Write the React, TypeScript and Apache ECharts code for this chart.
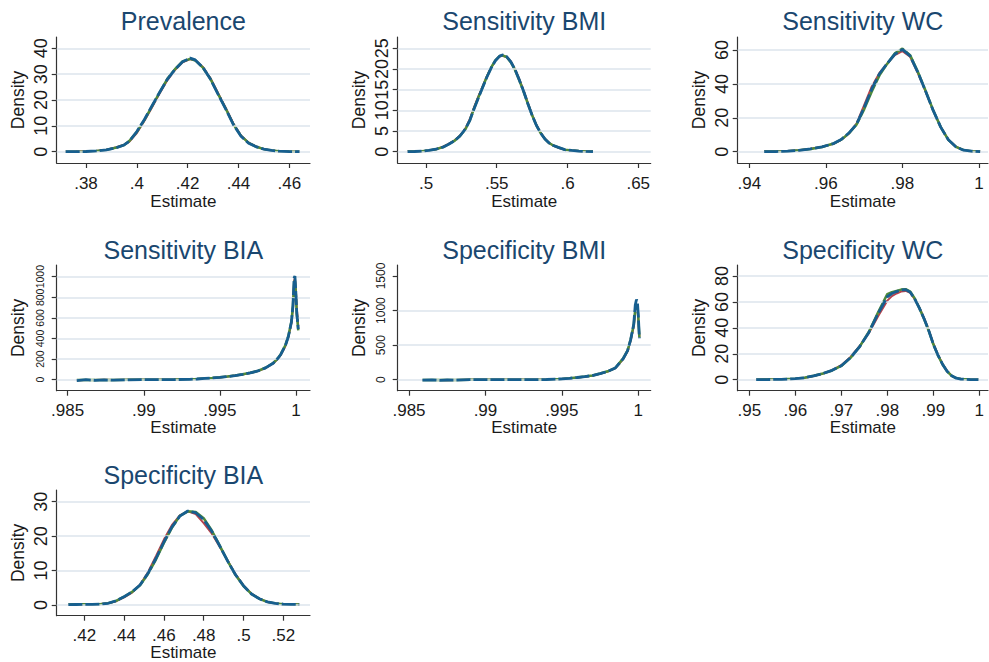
import React, { useEffect, useRef } from "react";
import * as echarts from "echarts";

// ---------- data ----------
const TITLES = [
  "Prevalence",
  "Sensitivity BMI",
  "Sensitivity WC",
  "Sensitivity BIA",
  "Specificity BMI",
  "Specificity WC",
  "Specificity BIA",
];

// Panel 1: Prevalence
const P1X = [0.372, 0.376, 0.38, 0.384, 0.388, 0.392, 0.395, 0.397, 0.4, 0.403, 0.406, 0.409, 0.412, 0.415, 0.418, 0.421, 0.423, 0.426, 0.429, 0.432, 0.435, 0.438, 0.441, 0.444, 0.447, 0.45, 0.453, 0.456, 0.46, 0.464];
const P1B = [0.02, 0.03, 0.08, 0.3, 0.7, 1.6, 2.6, 4.0, 7.8, 12.5, 17.8, 23.0, 28.0, 31.8, 34.8, 36.2, 35.5, 32.6, 28.0, 22.2, 16.5, 10.5, 6.0, 3.3, 1.9, 1.0, 0.5, 0.2, 0.05, 0.02];
const P1R = [0.02, 0.04, 0.1, 0.3, 0.8, 1.7, 2.7, 3.8, 7.2, 12.0, 17.2, 22.6, 27.6, 31.6, 34.6, 35.8, 35.4, 32.8, 28.4, 22.6, 16.9, 10.9, 6.3, 3.5, 2.0, 1.0, 0.5, 0.2, 0.06, 0.02];
const P1G = [0.02, 0.03, 0.09, 0.3, 0.7, 1.6, 2.6, 4.1, 7.6, 12.3, 17.6, 23.0, 28.2, 31.9, 34.9, 35.9, 35.3, 32.5, 28.1, 22.3, 16.6, 10.6, 6.1, 3.4, 1.9, 1.0, 0.5, 0.2, 0.05, 0.02];

// Panel 2: Sensitivity BMI
const P2X = [0.487, 0.492, 0.497, 0.502, 0.507, 0.512, 0.516, 0.52, 0.524, 0.528, 0.531, 0.534, 0.537, 0.54, 0.543, 0.546, 0.549, 0.552, 0.554, 0.557, 0.56, 0.563, 0.566, 0.569, 0.572, 0.575, 0.578, 0.581, 0.584, 0.587, 0.59, 0.594, 0.598, 0.603, 0.608, 0.613, 0.618];
const P2B = [0.02, 0.05, 0.12, 0.3, 0.6, 1.1, 1.8, 2.6, 3.8, 5.6, 7.6, 10.4, 13.0, 15.5, 18.0, 20.2, 22.0, 23.1, 23.4, 23.0, 21.7, 19.8, 17.3, 14.6, 11.6, 8.8, 6.4, 4.5, 3.1, 2.1, 1.5, 1.0, 0.5, 0.3, 0.15, 0.06, 0.02];
const P2R = [0.02, 0.05, 0.13, 0.3, 0.6, 1.2, 1.9, 2.7, 3.9, 5.7, 7.9, 10.8, 13.4, 15.8, 18.2, 20.3, 22.0, 23.0, 23.2, 22.9, 21.8, 19.9, 17.5, 14.8, 11.8, 8.9, 6.5, 4.6, 3.2, 2.1, 1.5, 0.9, 0.5, 0.3, 0.15, 0.06, 0.02];
const P2G = [0.02, 0.05, 0.12, 0.3, 0.6, 1.1, 1.8, 2.6, 3.8, 5.5, 7.6, 10.5, 13.1, 15.6, 18.1, 20.3, 22.1, 23.1, 23.3, 22.9, 21.6, 19.7, 17.2, 14.5, 11.6, 8.8, 6.4, 4.5, 3.1, 2.1, 1.5, 1.0, 0.5, 0.3, 0.15, 0.06, 0.02];

// Panel 3: Sensitivity WC
const P3X = [0.9439, 0.947, 0.95, 0.953, 0.956, 0.959, 0.962, 0.964, 0.966, 0.968, 0.97, 0.972, 0.974, 0.976, 0.978, 0.98, 0.982, 0.984, 0.986, 0.988, 0.99, 0.992, 0.994, 0.996, 0.998, 1.0003];
const P3B = [0.05, 0.1, 0.3, 0.8, 1.6, 2.8, 4.8, 7.2, 11.0, 16.2, 26.0, 37.0, 46.0, 52.0, 57.5, 60.4, 56.5, 47.0, 36.0, 24.5, 14.5, 7.0, 2.8, 0.9, 0.3, 0.05];
const P3R = [0.05, 0.1, 0.35, 0.9, 1.8, 3.0, 4.6, 7.0, 10.6, 16.5, 27.5, 38.5, 46.5, 52.0, 57.0, 59.3, 56.0, 46.5, 35.8, 24.5, 14.6, 7.1, 2.9, 0.9, 0.3, 0.05];
const P3G = [0.05, 0.1, 0.3, 0.8, 1.6, 2.8, 4.8, 7.1, 10.8, 16.0, 25.0, 35.5, 45.0, 51.8, 58.0, 60.8, 57.0, 47.3, 36.2, 24.6, 14.5, 7.0, 2.8, 0.9, 0.3, 0.05];

// Panel 4: Sensitivity BIA
const P4X = [0.9856, 0.9862, 0.9868, 0.9874, 0.988, 0.989, 0.99, 0.991, 0.992, 0.993, 0.9935, 0.994, 0.9945, 0.995, 0.9955, 0.996, 0.9965, 0.997, 0.9975, 0.998, 0.9985, 0.9988, 0.999, 0.9993, 0.9995, 0.9997, 0.9998, 0.99988, 0.99993, 0.99998, 1.00005, 1.00015];
const P4B = [-8, 0, -6, -2, -5, -1, 0, 0, 1, 4, 7, 12, 17, 22, 30, 40, 52, 66, 85, 115, 160, 205, 245, 330, 420, 560, 720, 990, 1005, 880, 650, 490];
const P4R = [-5, -2, -4, -1, -3, 0, 0, 0, 1, 4, 7, 11, 16, 22, 30, 40, 51, 65, 84, 113, 158, 200, 240, 325, 415, 550, 700, 960, 990, 900, 700, 520];
const P4G = [-4, -3, -2, -4, -2, -1, 0, 0, 1, 4, 7, 12, 17, 23, 31, 41, 53, 67, 86, 116, 162, 207, 248, 335, 425, 565, 715, 950, 960, 860, 640, 480];

// Panel 5: Specificity BMI
const P5X = [0.98588, 0.9865, 0.987, 0.9875, 0.988, 0.989, 0.99, 0.991, 0.992, 0.993, 0.994, 0.995, 0.9955, 0.996, 0.9965, 0.997, 0.9975, 0.998, 0.9985, 0.999, 0.9993, 0.9995, 0.9997, 0.9998, 0.99988, 0.99994, 1.0, 1.00007];
const P5B = [-5, -3, -10, -4, -6, 0, 0, 0, 0, 0, 3, 12, 20, 32, 45, 60, 88, 120, 170, 300, 420, 580, 800, 1080, 1160, 1130, 930, 600];
const P5R = [-4, -6, -5, -8, -3, 0, 0, 0, 0, 1, 3, 11, 19, 31, 44, 59, 86, 118, 168, 295, 410, 565, 770, 1000, 1060, 1040, 880, 620];
const P5G = [-3, -4, -6, -3, -5, -1, 0, 0, 0, 0, 3, 12, 20, 32, 46, 61, 89, 122, 172, 305, 425, 585, 790, 1020, 1080, 1060, 900, 610];

// Panel 6: Specificity WC
const P6X = [0.9515, 0.954, 0.957, 0.96, 0.962, 0.964, 0.966, 0.968, 0.97, 0.972, 0.974, 0.976, 0.978, 0.98, 0.981, 0.982, 0.983, 0.984, 0.985, 0.986, 0.987, 0.988, 0.989, 0.99, 0.991, 0.992, 0.993, 0.994, 0.995, 0.996, 0.998, 0.9998];
const P6B = [0.05, 0.1, 0.3, 0.8, 1.5, 3.0, 4.8, 7.2, 10.8, 17, 25.5, 36.5, 51, 64, 66.5, 68.0, 69.2, 69.5, 67.5, 62, 55, 47, 38, 27.5, 19, 12, 6.5, 3.0, 1.2, 0.5, 0.1, 0.05];
const P6R = [0.05, 0.1, 0.3, 0.8, 1.5, 2.9, 4.7, 7.4, 11.2, 17.5, 26, 36, 49, 61, 64.5, 66.5, 68.0, 68.5, 67.0, 62, 55.5, 47.5, 38.5, 28, 19.5, 12.2, 6.6, 3.0, 1.2, 0.5, 0.1, 0.05];
const P6G = [0.05, 0.1, 0.3, 0.8, 1.5, 3.0, 4.8, 7.1, 10.6, 16.8, 25.5, 37, 52, 66, 67.5, 68.5, 69.5, 69.8, 68, 62.5, 55, 46.8, 37.8, 27.3, 18.8, 11.9, 6.4, 3.0, 1.2, 0.5, 0.1, 0.05];

// Panel 7: Specificity BIA
const P7X = [0.412, 0.416, 0.42, 0.424, 0.428, 0.432, 0.436, 0.44, 0.444, 0.448, 0.452, 0.456, 0.46, 0.464, 0.468, 0.472, 0.476, 0.48, 0.484, 0.488, 0.492, 0.496, 0.5, 0.504, 0.508, 0.512, 0.516, 0.52, 0.524, 0.528];
const P7B = [0.1, 0.15, 0.2, 0.2, 0.25, 0.5, 1.2, 2.4, 3.8, 5.8, 9.2, 13.5, 18.3, 22.6, 25.8, 27.3, 26.8, 24.8, 21.5, 17.2, 12.8, 8.8, 5.6, 3.2, 1.8, 0.9, 0.45, 0.25, 0.2, 0.15];
const P7R = [0.1, 0.15, 0.2, 0.25, 0.3, 0.5, 1.1, 2.2, 3.6, 5.9, 9.5, 14.2, 19.0, 23.2, 26.0, 27.2, 26.4, 23.8, 20.8, 17.0, 12.9, 8.9, 5.7, 3.3, 1.8, 0.9, 0.45, 0.25, 0.2, 0.15];
const P7G = [0.15, 0.2, 0.2, 0.2, 0.25, 0.5, 1.2, 2.4, 3.8, 5.7, 9.0, 13.2, 18.0, 22.4, 25.9, 27.2, 27.0, 25.2, 21.7, 17.3, 12.8, 8.7, 5.5, 3.2, 1.8, 0.9, 0.45, 0.25, 0.2, 0.15];

// tick values
const X_TICKS = [
  [0.38, 0.4, 0.42, 0.44, 0.46],
  [0.5, 0.55, 0.6, 0.65],
  [0.94, 0.96, 0.98, 1],
  [0.985, 0.99, 0.995, 1],
  [0.985, 0.99, 0.995, 1],
  [0.95, 0.96, 0.97, 0.98, 0.99, 1],
  [0.42, 0.44, 0.46, 0.48, 0.5, 0.52],
];
const Y_TICKS = [
  [0, 10, 20, 30, 40],
  [0, 5, 10, 15, 20, 25],
  [0, 20, 40, 60],
  [0, 200, 400, 600, 800, 1000],
  [0, 500, 1000, 1500],
  [0, 20, 40, 60, 80],
  [0, 10, 20, 30],
];
const Y_GRID = [
  [0, 10, 20, 30, 40],
  [0, 5, 10, 15, 20, 25],
  [0, 20, 40, 60],
  [0, 200, 400, 600, 800, 1000],
  [0, 500, 1000],
  [0, 20, 40, 60, 80],
  [0, 10, 20, 30],
];

// axis extents (plot region incl. Stata padding)
const X_RANGE = [
  [0.36847, 0.46815],
  [0.48, 0.6588],
  [0.93697, 1.00235],
  [0.98428, 1.00092],
  [0.98426, 1.00081],
  [0.94748, 1.00189],
  [0.40613, 0.53342],
];
const Y_RANGE = [
  [-4.37, 44.37],
  [-2.73, 27.73],
  [-6.67, 67.67],
  [-106.8, 1113.6],
  [-159, 1659],
  [-8.49, 88.49],
  [-3.11, 33.4],
];

const XS = [P1X, P2X, P3X, P4X, P5X, P6X, P7X];
const REDS = [P1R, P2R, P3R, P4R, P5R, P6R, P7R];
const GREENS = [P1G, P2G, P3G, P4G, P5G, P6G, P7G];
const BLUES = [P1B, P2B, P3B, P4B, P5B, P6B, P7B];

// ---------- layout / style ----------
const COL_LEFT = [56.7, 397.7, 737.7];
const COL_WIDTH = [253.3, 253, 250.3];
const ROW_TOP = [37, 265, 490];
const ROW_HEIGHT = [126, 125.7, 125.7];
const TITLE_Y = [20.5, 249.5, 474.5];
const X_NAME_GAP = [30, 29, 29];
const X_LABEL_MARGIN = [12, 11, 11];
const Y_LABEL_SIZE = [18, 18, 18, 10.5, 12, 18, 18];

const FONT = "'Liberation Sans', Arial, Helvetica, sans-serif";
const TITLE_COLOR = "#1a476f";
const AXIS_COLOR = "#333333";
const TEXT_COLOR = "#1a1a1a";
const GRID_COLOR = "#dde4ec";
const RED = "#b8424c";
const GREEN = "#4e8a3a";
const BLUE = "#175f8f";

function fmt(v: number): string {
  let s = String(parseFloat(v.toFixed(5)));
  if (s.startsWith("0.")) s = s.slice(1);
  if (s.startsWith("-0.")) s = "-" + s.slice(2);
  return s;
}

function buildOption() {
  const grids: any[] = [];
  const xAxes: any[] = [];
  const yAxes: any[] = [];
  const series: any[] = [];
  const graphics: any[] = [];

  for (let p = 0; p < 7; p++) {
    const col = p % 3;
    const row = Math.floor(p / 3);
    const left = COL_LEFT[col];
    const top = ROW_TOP[row];
    const width = COL_WIDTH[col];
    const height = ROW_HEIGHT[row];
    grids.push({ left, top, width, height, containLabel: false, outerBoundsMode: "none" });

    xAxes.push({
      type: "value",
      gridIndex: p,
      min: X_RANGE[p][0],
      max: X_RANGE[p][1],
      name: "Estimate",
      nameLocation: "middle",
      nameGap: X_NAME_GAP[row],
      nameMoveOverlap: false,
      nameTextStyle: { fontFamily: FONT, fontSize: 17, color: TEXT_COLOR, lineHeight: 16 },
      axisLine: { show: true, onZero: false, lineStyle: { color: AXIS_COLOR, width: 1.2 } },
      axisTick: { show: true, inside: false, length: 5, customValues: X_TICKS[p], lineStyle: { color: AXIS_COLOR, width: 1.2 } },
      axisLabel: {
        show: true,
        customValues: X_TICKS[p],
        margin: X_LABEL_MARGIN[row],
        hideOverlap: false,
        showMinLabel: true,
        showMaxLabel: true,
        fontFamily: FONT,
        fontSize: 17,
        lineHeight: 17,
        color: TEXT_COLOR,
        formatter: (v: number) => fmt(v),
      },
      splitLine: { show: false },
    });

    const ls = Y_LABEL_SIZE[p];
    yAxes.push({
      type: "value",
      gridIndex: p,
      min: Y_RANGE[p][0],
      max: Y_RANGE[p][1],
      name: "Density",
      nameLocation: "middle",
      nameRotate: 90,
      nameGap: 30,
      nameMoveOverlap: false,
      nameTextStyle: { fontFamily: FONT, fontSize: 17.5, color: TEXT_COLOR },
      axisLine: { show: true, onZero: false, lineStyle: { color: AXIS_COLOR, width: 1.2 } },
      axisTick: { show: true, inside: false, length: 5, customValues: Y_TICKS[p], lineStyle: { color: AXIS_COLOR, width: 1.2 } },
      axisLabel: {
        show: true,
        customValues: Y_TICKS[p],
        rotate: 90,
        hideOverlap: false,
        showMinLabel: true,
        showMaxLabel: true,
        margin: ls > 12 ? 7 : 11,
        fontFamily: FONT,
        fontSize: ls,
        color: TEXT_COLOR,
        formatter: (v: number) => fmt(v),
      },
      splitLine: { show: false },
    });

    // gridlines
    series.push({
      type: "line",
      xAxisIndex: p,
      yAxisIndex: p,
      data: [],
      silent: true,
      z: 1,
      markLine: {
        silent: true,
        symbol: ["none", "none"],
        label: { show: false },
        emphasis: { disabled: true },
        lineStyle: { color: GRID_COLOR, width: 1.5, type: "solid" },
        data: Y_GRID[p].map((v) => ({ yAxis: v })),
      },
    });

    const xs = XS[p];
    const mk = (ys: number[]) => xs.map((x, i) => [x, ys[i]]);
    series.push({
      type: "line", xAxisIndex: p, yAxisIndex: p, data: mk(REDS[p]), showSymbol: false, z: 3,
      lineStyle: { color: RED, width: 2 }, silent: true,
    });
    series.push({
      type: "line", xAxisIndex: p, yAxisIndex: p, data: mk(GREENS[p]), showSymbol: false, z: 4,
      lineStyle: { color: GREEN, width: 2.5 }, silent: true,
    });
    series.push({
      type: "line", xAxisIndex: p, yAxisIndex: p, data: mk(BLUES[p]), showSymbol: false, z: 5,
      lineStyle: { color: BLUE, width: 2.8, type: [14, 3] }, silent: true,
    });

    graphics.push({
      type: "text",
      x: left + width / 2,
      y: TITLE_Y[row],
      style: {
        text: TITLES[p],
        font: `25px ${FONT}`,
        fill: TITLE_COLOR,
        align: "center",
        verticalAlign: "middle",
        textAlign: "center",
        textVerticalAlign: "middle",
      },
    });
  }

  return {
    animation: false,
    backgroundColor: "#ffffff",
    grid: grids,
    xAxis: xAxes,
    yAxis: yAxes,
    series,
    graphic: graphics,
  };
}

export default function App() {
  const ref = useRef<HTMLDivElement>(null);
  useEffect(() => {
    if (!ref.current) return;
    const chart = echarts.init(ref.current, null, { renderer: "svg" });
    chart.setOption(buildOption() as any);
    return () => chart.dispose();
  }, []);
  return (
    <div
      ref={ref}
      style={{ position: "absolute", left: 0, top: 0, width: 989, height: 662, background: "#fff" }}
    />
  );
}
